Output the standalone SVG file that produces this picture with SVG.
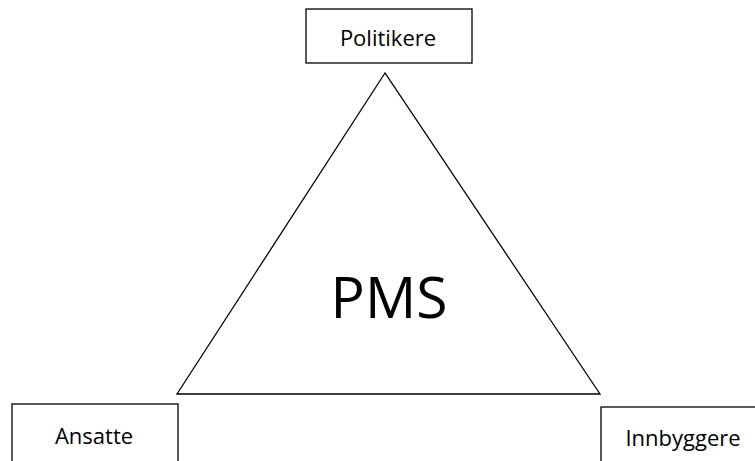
<svg xmlns="http://www.w3.org/2000/svg" width="755" height="461" viewBox="0 0 755 461">
<style>
.box{fill:#fff;stroke:#000;stroke-width:1.3}
.lbl{font-family:"Open Sans","Liberation Sans",sans-serif;font-size:22px;fill:#000;text-anchor:middle}
.tri{fill:#fff;stroke:#000;stroke-width:1.3}
</style>
<rect width="755" height="461" fill="#fff"/>
<g id="connectors">
<polygon class="tri" points="385,73 177,394 600,394"/>
</g>
<g id="pms">
<text x="389" y="318" font-family="'Open Sans','Liberation Sans',sans-serif" font-size="57" text-anchor="middle">PMS</text>
</g>
<g id="politikere">
<rect class="box" x="306" y="9" width="166" height="54"/>
<text class="lbl" x="388" y="46">Politikere</text>
</g>
<g id="ansatte">
<rect class="box" x="12" y="404" width="166" height="70"/>
<text class="lbl" x="94" y="444">Ansatte</text>
</g>
<g id="innbyggere">
<rect class="box" x="601" y="407" width="170" height="70"/>
<text class="lbl" x="683" y="446">Innbyggere</text>
</g>
</svg>
